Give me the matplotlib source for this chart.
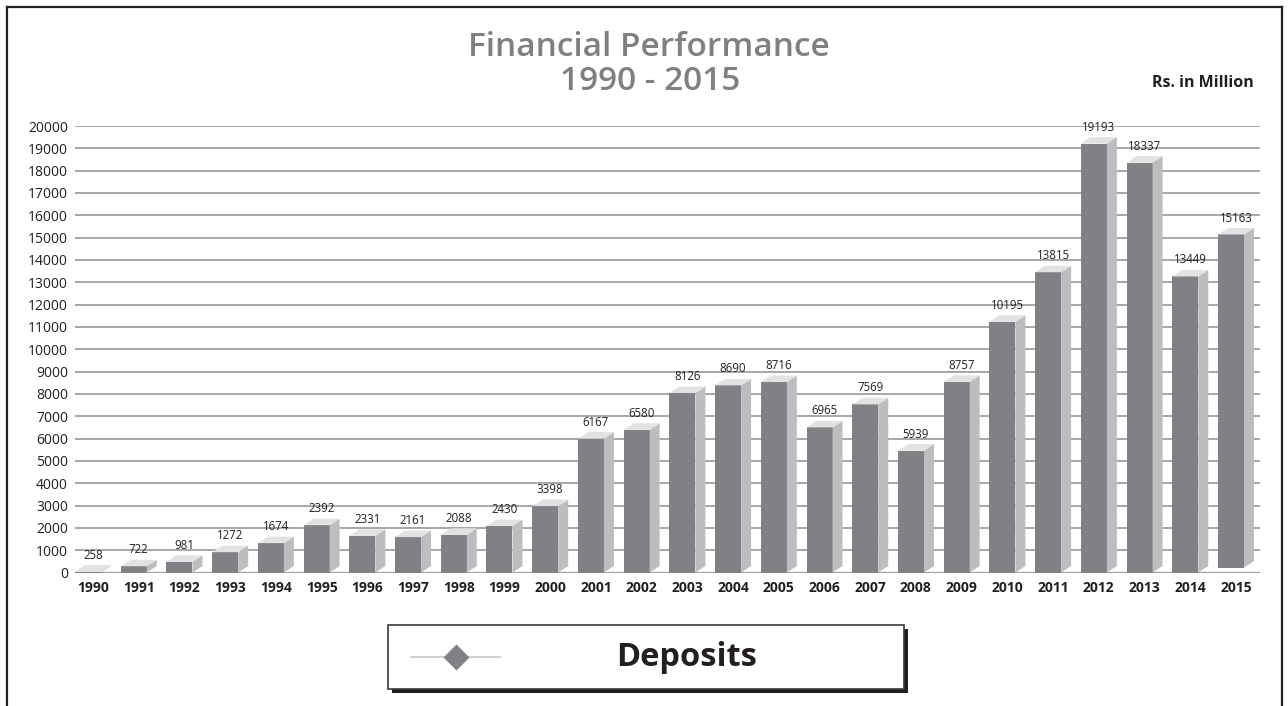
import matplotlib
matplotlib.use('Agg')
import matplotlib.pyplot as plt
from matplotlib.patches import Rectangle, Polygon
from matplotlib.lines import Line2D
import numpy as np

plt.rcParams['font.family'] = ['Open Sans', 'DejaVu Sans']

# 数据：年份、标注数值、柱子实际画出的高度
years = [str(y) for y in range(1990, 2016)]
deposits = [258, 722, 981, 1272, 1674, 2392, 2331, 2161, 2088, 2430, 3398,
            6167, 6580, 8126, 8690, 8716, 6965, 7569, 5939, 8757, 10195,
            13815, 19193, 18337, 13449, 15163]
bar_tops = [40, 280, 480, 910, 1315, 2120, 1645, 1585, 1690, 2080, 2975,
            6000, 6390, 8040, 8380, 8530, 6500, 7530, 5460, 8540, 11235,
            13450, 19210, 18360, 13260, 15140]
bar_bases = [0] * 25 + [220]
yticks = list(range(0, 20001, 1000))

W, H = 1288, 706
fig = plt.figure(figsize=(W / 100, H / 100), dpi=100)
fig.patch.set_facecolor('white')

# 坐标区（像素位置换算）
axL, axR, axT, axB = 75, 1260, 126, 572.5
ax = fig.add_axes([axL / W, 1 - axB / H, (axR - axL) / W, (axB - axT) / H])
n = len(years)
xs = np.arange(n)
xmin, xmax = -0.394, 25.525
ax.set_xlim(xmin, xmax)
ax.set_ylim(0, 20000)

# 3D 效果的偏移量，从像素换算成数据单位
px_x = (xmax - xmin) / (axR - axL)
px_y = 20000 / (axB - axT)
dx = 10 * px_x
dy = 6.5 * px_y
total_w = 36 * px_x
front_w = total_w - dx

front_c = '#808085'
side_c = '#bdbdbf'
top_c = '#e2e2e3'

for i in range(n):
    x0 = xs[i] - total_w / 2
    x1 = x0 + front_w
    b = bar_bases[i]
    h = bar_tops[i]
    # 正面
    ax.add_patch(Rectangle((x0, b), front_w, h - b, facecolor=front_c,
                           edgecolor='none', zorder=3))
    # 侧面
    ax.add_patch(Polygon([(x1, b), (x1 + dx, b + dy), (x1 + dx, h + dy), (x1, h)],
                         closed=True, facecolor=side_c, edgecolor='none', zorder=3))
    # 顶面
    ax.add_patch(Polygon([(x0, h), (x1, h), (x1 + dx, h + dy), (x0 + dx, h + dy)],
                         closed=True, facecolor=top_c, edgecolor='none', zorder=3))
    # 数据标签
    ax.annotate(str(deposits[i]), (xs[i], h + dy), xytext=(0, 2.5),
                textcoords='offset points', ha='center', va='bottom',
                fontsize=8.3, color='#231f20', zorder=5)

ax.set_yticks(yticks)
ax.set_yticklabels([str(v) for v in yticks])
ax.set_xticks(xs)
ax.set_xticklabels(years, fontweight='bold')
ax.tick_params(axis='y', length=0, pad=5, labelsize=10, labelcolor='#231f20')
ax.tick_params(axis='x', length=0, pad=6, labelsize=10, labelcolor='#231f20')
for s in ax.spines.values():
    s.set_visible(False)
ax.yaxis.grid(True, color='#a0a0a0', lw=1.3, zorder=0)
ax.set_axisbelow(True)
ax.axhline(0, color='#a0a0a0', lw=1.6, zorder=2)

# 标题
fig.text(649 / W, 1 - 47 / H, 'Financial Performance', ha='center', va='center',
         fontsize=24, fontweight='semibold', color='#808080')
fig.text(650 / W, 1 - 82 / H, '1990 - 2015', ha='center', va='center',
         fontsize=24, fontweight='semibold', color='#808080')
fig.text(1254 / W, 1 - 83 / H, 'Rs. in Million', ha='right', va='center',
         fontsize=11.5, fontweight='bold', color='#231f20')

# 外框（左、上、右）
fig.add_artist(Line2D([7 / W, 7 / W], [0, 1 - 7 / H], color='#231f20', lw=1.6))
fig.add_artist(Line2D([7 / W, 1282 / W], [1 - 7 / H, 1 - 7 / H], color='#231f20', lw=1.6))
fig.add_artist(Line2D([1282 / W, 1282 / W], [0, 1 - 7 / H], color='#231f20', lw=1.6))

# 图例框 + 阴影
lx0, lx1, ly0, ly1 = 388, 904, 625, 689
fig.add_artist(Rectangle(((lx0 + 4) / W, 1 - (ly1 + 4) / H), (lx1 - lx0) / W,
                         (ly1 - ly0) / H, facecolor='#231f20', edgecolor='none'))
fig.add_artist(Rectangle((lx0 / W, 1 - ly1 / H), (lx1 - lx0) / W, (ly1 - ly0) / H,
                         facecolor='white', edgecolor='#3a3a3a', lw=1.2))
fig.add_artist(Line2D([411 / W, 500 / W], [1 - 657 / H, 1 - 657 / H],
                      color='#c8c8c8', lw=1.2))
fig.add_artist(Line2D([456 / W], [1 - 657 / H], marker='D', markersize=13,
                      color='#808085', markeredgecolor='none', lw=0))
fig.text(687 / W, 1 - 657 / H, 'Deposits', ha='center', va='center',
         fontsize=23.5, fontweight='bold', color='#231f20')

fig.savefig('out.png', dpi=100)
